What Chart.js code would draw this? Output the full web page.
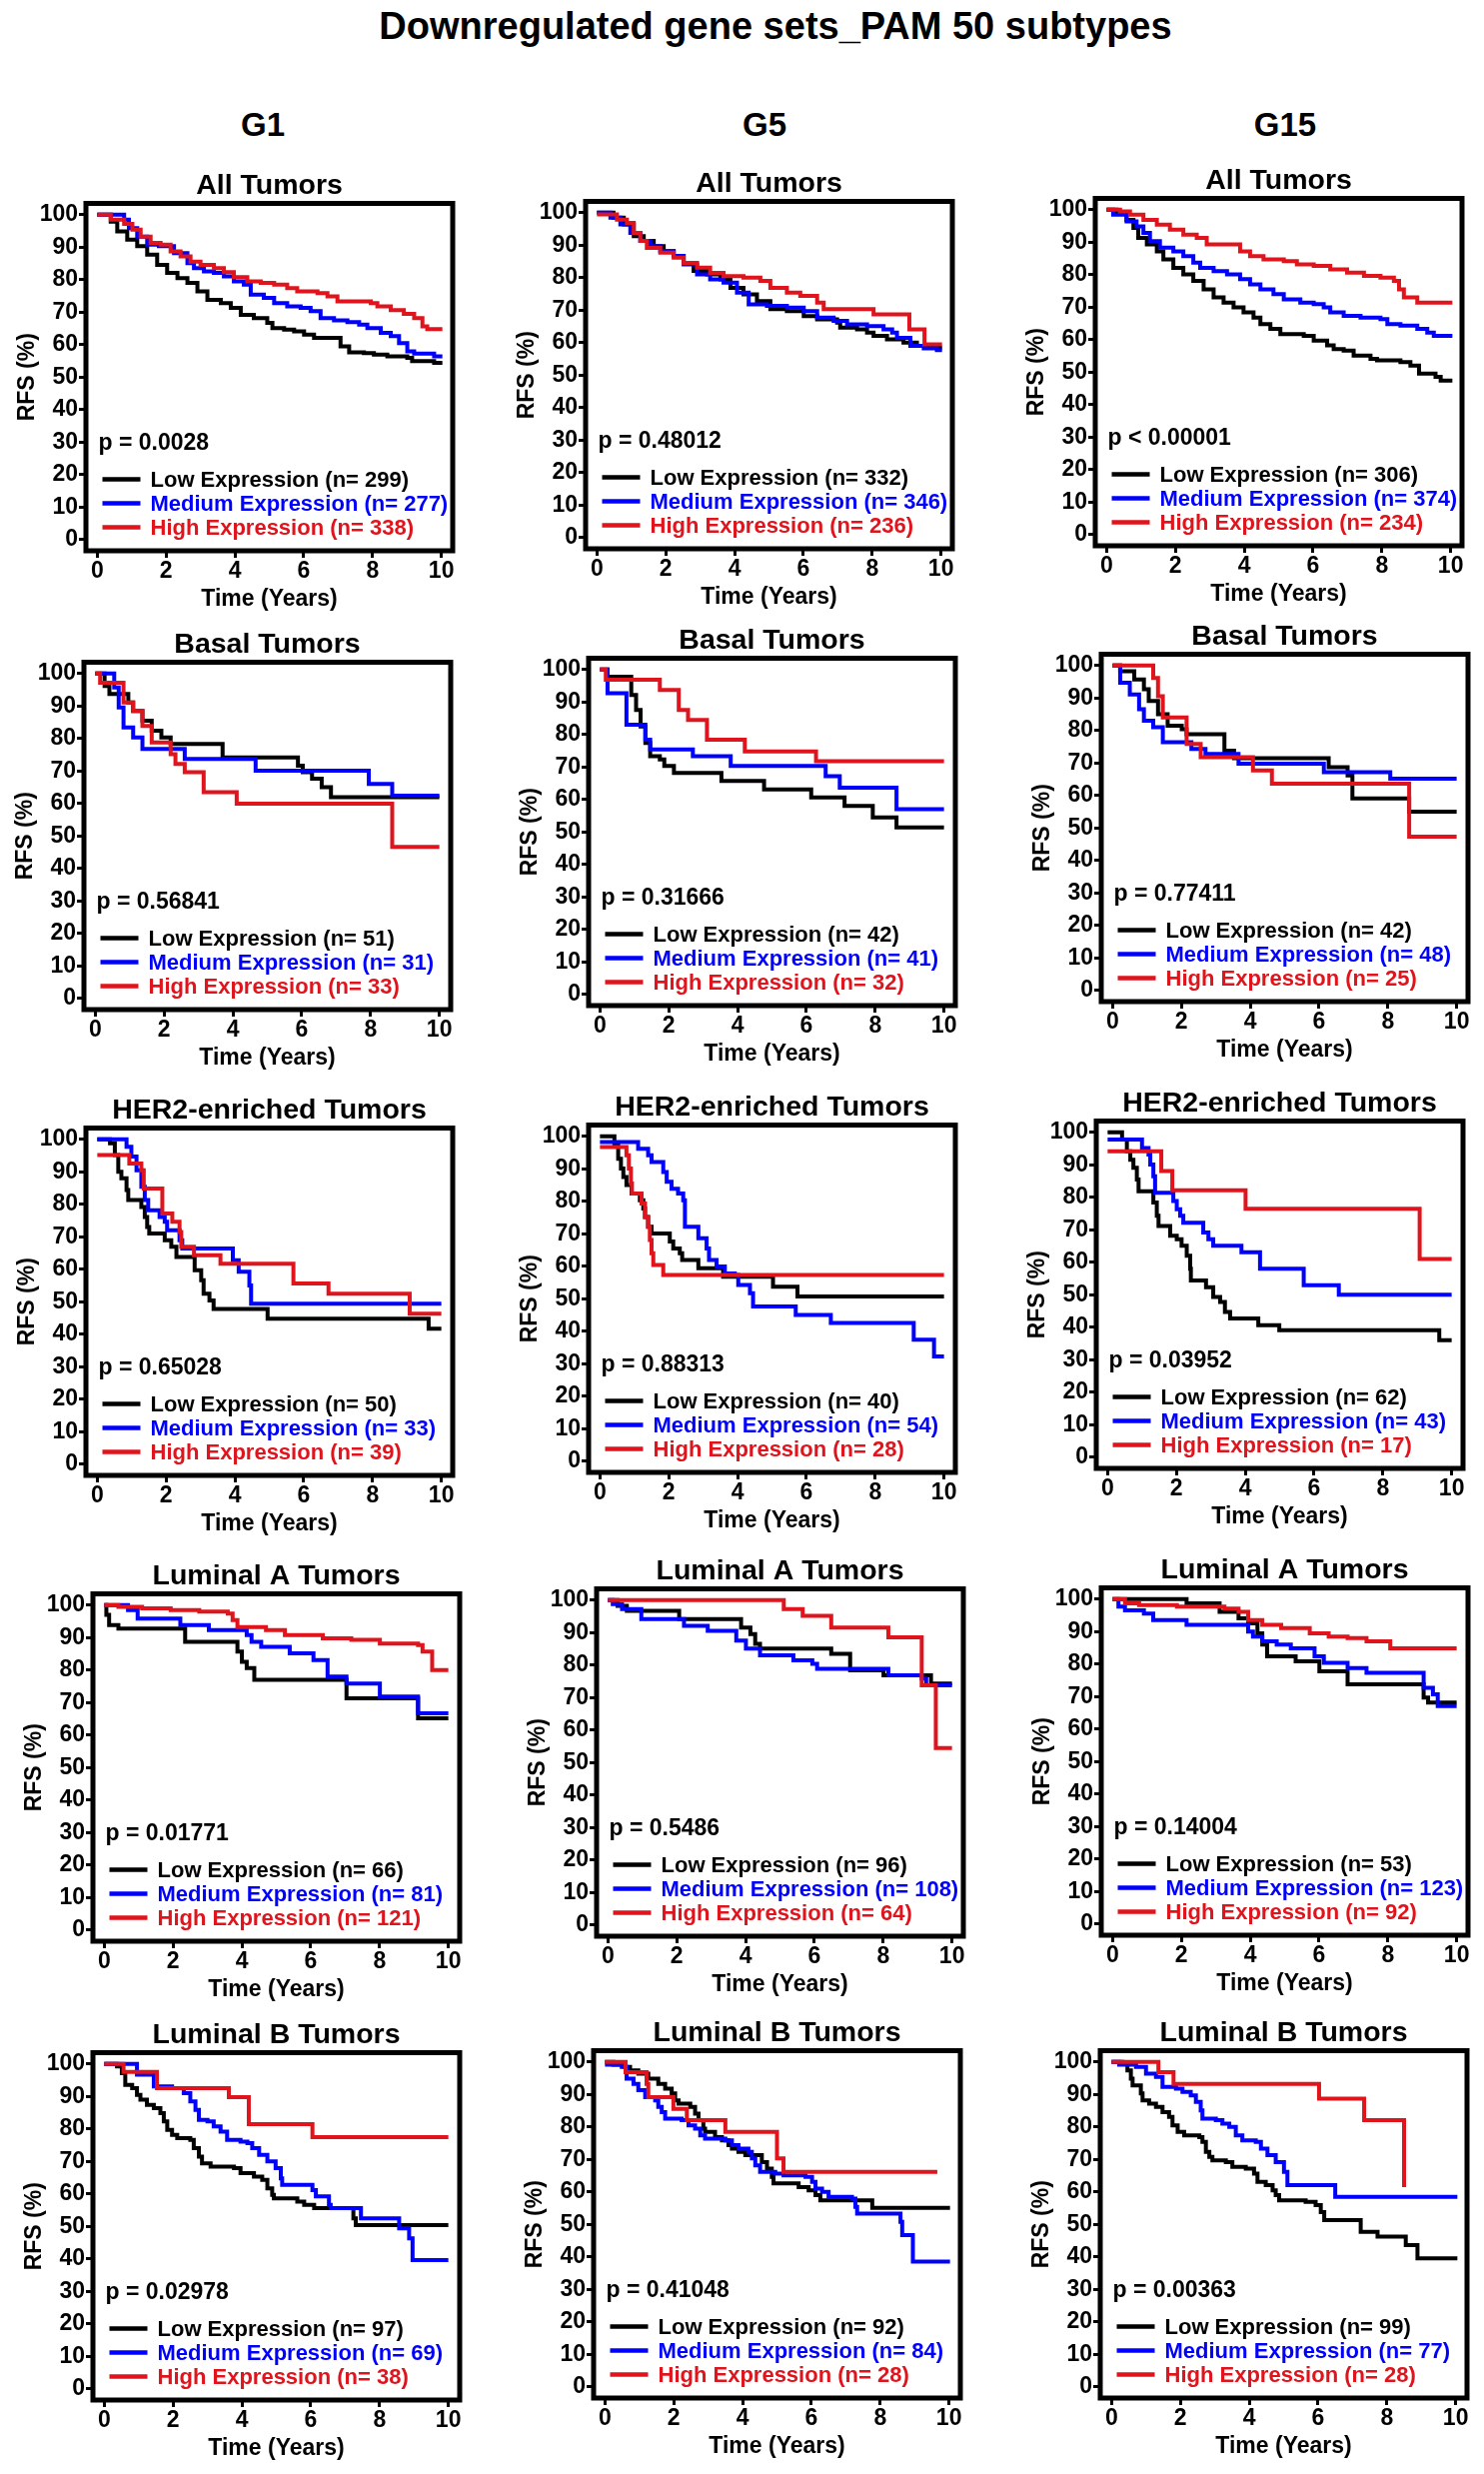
<!DOCTYPE html>
<html><head><meta charset="utf-8">
<script src="https://cdn.jsdelivr.net/npm/chart.js@4.4.1/dist/chart.umd.min.js"></script>
<style>
html,body{margin:0;padding:0;background:#fff;}
#page{position:relative;width:1485px;height:2475px;background:#fff;overflow:hidden;font-family:"Liberation Sans",Arial,sans-serif;font-weight:bold;}
.txt{position:absolute;white-space:nowrap;color:#000;line-height:1;transform:translate(-50%,-50%);}
canvas{position:absolute;}
</style></head><body><div id="page"></div>
<script>
// ---------------- DATA ----------------
const mainTitle = 'Downregulated gene sets_PAM 50 subtypes';
const geneSets = ['G1', 'G5', 'G15'];
const subtypes = ['All Tumors', 'Basal Tumors', 'HER2-enriched Tumors', 'Luminal A Tumors', 'Luminal B Tumors'];
const groups = ['Low Expression', 'Medium Expression', 'High Expression'];
const xTicks = [0, 2, 4, 6, 8, 10];
const yTicks = [0, 10, 20, 30, 40, 50, 60, 70, 80, 90, 100];
const xTitle = 'Time (Years)';
const yTitle = 'RFS (%)';

const pAll   = ['p = 0.0028', 'p = 0.48012', 'p < 0.00001'];
const pBasal = ['p = 0.56841', 'p = 0.31666', 'p = 0.77411'];
const pHER2  = ['p = 0.65028', 'p = 0.88313', 'p = 0.03952'];
const pLumA  = ['p = 0.01771', 'p = 0.5486', 'p = 0.14004'];
const pLumB  = ['p = 0.02978', 'p = 0.41048', 'p = 0.00363'];

const nAll   = [[299, 277, 338], [332, 346, 236], [306, 374, 234]];
const nBasal = [[51, 31, 33], [42, 41, 32], [42, 48, 25]];
const nHER2  = [[50, 33, 39], [40, 54, 28], [62, 43, 17]];
const nLumA  = [[66, 81, 121], [96, 108, 64], [53, 123, 92]];
const nLumB  = [[97, 69, 38], [92, 84, 28], [99, 77, 28]];

// Kaplan-Meier curves: [time (years), RFS (%)]
const All_G1_Low = [[0,100],[0.39,97.9],[0.58,94.9],[0.87,92.3],[1.16,90.3],[1.45,87.7],[1.74,84.6],[2.03,82.1],[2.33,80.5],[2.62,79.0],[2.91,76.4],[3.20,73.8],[3.59,72.8],[3.88,71.3],[4.17,69.2],[4.55,68.2],[4.94,66.7],[5.09,65.1],[5.43,64.6],[5.72,64.1],[6.01,63.1],[6.30,62.1],[7.07,59.5],[7.32,57.6],[7.75,57.4],[8.04,56.9],[8.43,56.4],[9.01,55.9],[9.15,54.9],[9.79,54.4],[10.03,54.4]];
const All_G1_Med = [[0,100],[0.78,98.5],[0.92,95.9],[1.16,93.3],[1.45,90.8],[1.79,90.3],[2.23,88.2],[2.62,85.1],[2.81,83.6],[3.10,82.6],[3.39,82.1],[3.68,81.0],[3.97,79.5],[4.26,78.5],[4.46,75.4],[4.84,74.4],[5.14,72.8],[5.52,71.8],[5.91,71.3],[6.20,70.3],[6.49,68.2],[6.88,67.5],[7.27,66.9],[7.61,66.2],[7.85,65.1],[8.24,63.6],[8.53,62.6],[8.77,60.5],[9.01,57.9],[9.21,57.2],[9.79,56.4],[10.03,56.4]];
const All_G1_High = [[0,100],[0.39,98.5],[0.78,97.2],[1.02,95.4],[1.26,93.3],[1.55,91.3],[1.84,90.8],[2.13,88.7],[2.42,87.2],[2.71,85.6],[3.00,84.6],[3.39,83.6],[3.68,82.3],[3.97,80.8],[4.36,79.5],[4.75,79.0],[5.14,78.5],[5.52,77.4],[5.81,76.4],[6.40,75.9],[6.69,74.9],[6.98,73.3],[7.95,72.8],[8.14,71.8],[8.53,70.6],[8.91,69.5],[9.21,68.2],[9.45,65.6],[9.59,64.8],[10.03,64.8]];

const All_G5_Low = [[0,100],[0.48,98.5],[0.78,96.4],[1.07,92.8],[1.36,91.3],[1.65,89.7],[1.94,88.2],[2.23,86.7],[2.52,84.6],[2.81,82.1],[3.20,81.0],[3.59,79.5],[3.88,76.9],[4.26,74.9],[4.65,72.8],[5.04,70.3],[5.52,69.7],[6.01,68.2],[6.40,67.2],[6.98,66.2],[7.07,64.6],[7.56,64.1],[7.85,63.1],[8.04,62.1],[8.43,61.0],[8.91,60.0],[9.30,59.0],[9.69,58.5],[10.03,58.5]];
const All_G5_Med = [[0,100],[0.39,98.5],[0.68,96.4],[0.97,93.8],[1.26,91.3],[1.55,89.7],[1.84,88.2],[2.23,86.7],[2.52,84.1],[2.91,81.0],[3.29,79.5],[3.68,78.5],[4.07,75.4],[4.41,71.8],[4.94,71.3],[5.52,70.8],[6.01,69.7],[6.40,67.7],[6.88,66.7],[7.27,65.6],[7.85,65.1],[8.33,64.1],[8.58,63.1],[8.72,61.5],[9.11,59.0],[9.50,58.2],[9.88,57.7],[10.03,57.7]];
const All_G5_High = [[0,99.5],[0.58,97.9],[0.87,96.9],[1.07,93.8],[1.26,91.3],[1.45,89.2],[1.84,87.7],[2.23,86.2],[2.52,84.6],[2.91,83.1],[3.29,81.5],[3.68,80.5],[4.26,80.0],[4.75,79.0],[5.04,76.9],[5.52,75.4],[5.91,74.4],[6.40,72.3],[6.59,70.3],[8.04,68.7],[9.08,64.1],[9.52,59.5],[10.03,59.5]];

const All_G15_Low = [[0,100],[0.29,99.0],[0.58,96.9],[0.78,94.4],[0.92,91.3],[1.17,89.3],[1.46,87.2],[1.65,84.7],[1.94,82.1],[2.23,80.1],[2.52,78.1],[2.82,75.5],[3.11,73.0],[3.40,71.4],[3.69,69.9],[3.98,68.4],[4.27,66.8],[4.47,64.8],[4.76,63.3],[5.05,61.7],[5.73,61.2],[6.02,59.7],[6.41,58.2],[6.60,57.1],[6.89,56.6],[7.18,55.1],[7.67,54.1],[7.86,53.6],[8.54,53.1],[8.83,52.0],[9.08,49.5],[9.56,48.5],[9.71,47.4],[10.05,47.4]];
const All_G15_Med = [[0,100],[0.19,98.5],[0.58,96.4],[0.87,94.9],[1.07,92.9],[1.26,90.3],[1.55,88.3],[1.94,87.2],[2.23,85.7],[2.52,83.7],[2.72,82.1],[3.11,81.1],[3.50,80.1],[3.88,78.6],[4.17,77.0],[4.47,75.5],[4.85,74.0],[5.15,72.4],[5.63,71.4],[6.02,70.9],[6.31,69.9],[6.50,68.4],[6.89,67.3],[7.38,66.8],[7.96,66.3],[8.16,64.8],[8.54,64.3],[9.03,63.3],[9.32,62.2],[9.51,61.2],[10.05,61.2]];
const All_G15_High = [[0,100],[0.39,99.5],[0.68,98.5],[1.07,96.9],[1.46,95.4],[1.84,93.9],[2.23,92.3],[2.62,91.3],[2.91,89.3],[3.88,87.2],[4.17,85.7],[4.56,84.7],[5.15,84.2],[5.53,83.2],[6.02,82.7],[6.50,81.6],[6.99,80.6],[7.48,79.6],[7.96,79.1],[8.35,78.1],[8.50,75.5],[8.64,73.0],[9.03,71.4],[10.05,71.4]];

const Basal_G1_Low = [[0,100],[0.27,96.2],[0.41,93.7],[0.96,91.1],[1.10,88.5],[1.37,85.5],[1.64,82.4],[1.92,80.3],[2.19,78.3],[3.70,74.2],[5.89,71.6],[6.03,69.6],[6.30,67.6],[6.58,65.0],[6.85,61.9],[10.0,61.9]];
const Basal_G1_Med = [[0,100],[0.55,95.7],[0.68,89.6],[0.82,83.4],[1.10,80.3],[1.37,76.8],[2.60,73.7],[4.66,70.1],[7.95,66.0],[8.63,62.4],[10.0,62.4]];
const Basal_G1_High = [[0,100],[0.14,97.2],[0.82,91.1],[1.10,88.5],[1.37,83.9],[1.64,78.8],[2.19,75.2],[2.33,72.2],[2.60,69.6],[3.15,63.5],[4.11,59.9],[8.63,46.6],[10.0,46.6]];

const Basal_G5_Low = [[0,100],[0.22,97.8],[0.91,92.2],[1.05,87.6],[1.18,82.5],[1.32,77.4],[1.46,73.3],[1.74,72.3],[1.87,70.3],[2.15,68.2],[3.53,65.7],[4.77,63.1],[6.14,60.6],[7.11,58.0],[7.93,54.5],[8.62,51.4],[10.0,51.4]];
const Basal_G5_Med = [[0,100],[0.22,92.7],[0.77,83.0],[1.32,78.4],[1.46,75.4],[2.70,73.3],[3.80,70.3],[6.56,67.2],[6.97,63.6],[8.62,57.0],[10.0,57.0]];
const Basal_G5_High = [[0,100],[0.17,96.9],[1.74,93.7],[2.29,87.6],[2.56,84.5],[3.11,78.4],[4.21,74.8],[6.28,71.8],[10.0,71.8]];

const Basal_G15_Low = [[0,100],[0.22,98.3],[0.63,95.7],[0.91,92.7],[1.05,89.1],[1.32,85.0],[1.60,81.5],[2.01,80.4],[2.15,78.9],[3.25,73.8],[3.53,71.5],[6.28,68.7],[6.83,66.2],[6.97,59.1],[8.62,55.0],[10.0,55.0]];
const Basal_G15_Med = [[0,100],[0.22,94.7],[0.50,91.1],[0.77,86.6],[0.91,83.0],[1.18,81.0],[1.46,76.4],[2.29,74.3],[2.70,72.8],[3.66,69.8],[6.14,67.2],[8.07,65.2],[10.0,65.2]];
const Basal_G15_High = [[0,100],[1.18,96.2],[1.32,90.6],[1.46,84.0],[2.15,75.9],[2.56,71.8],[4.08,67.7],[4.63,63.6],[8.62,47.3],[10.0,47.3]];

const HER2_G1_Low = [[0,100],[0.37,98.8],[0.51,95.2],[0.61,90.0],[0.70,88.0],[0.85,84.4],[0.90,81.3],[1.28,79.2],[1.38,76.1],[1.45,73.0],[1.51,71.0],[1.96,68.9],[2.15,66.9],[2.30,63.8],[2.83,59.7],[3.02,56.6],[3.09,52.5],[3.26,50.4],[3.38,47.8],[4.95,44.8],[9.63,41.7],[10.0,41.7]];
const HER2_G1_Med = [[0,100],[0.85,97.7],[0.99,94.7],[1.14,90.5],[1.28,85.4],[1.38,81.3],[1.48,78.2],[1.81,76.1],[1.96,74.6],[2.03,72.0],[2.39,68.9],[2.47,66.4],[3.94,62.8],[4.11,59.2],[4.42,55.0],[4.47,49.4],[10.0,49.4]];
const HER2_G1_High = [[0,95.2],[0.93,92.6],[1.28,90.5],[1.35,84.9],[1.89,77.2],[2.18,74.6],[2.39,71.5],[2.44,66.9],[2.81,64.3],[3.58,61.7],[5.70,55.6],[6.72,52.5],[9.08,46.3],[10.0,46.3]];

const HER2_G5_Low = [[0,100],[0.42,97.7],[0.53,93.1],[0.61,90.1],[0.68,87.5],[0.77,85.0],[0.92,82.4],[1.16,80.3],[1.26,77.8],[1.31,75.2],[1.40,72.2],[1.50,70.1],[2.03,67.6],[2.13,65.5],[2.32,64.0],[2.39,61.9],[2.86,59.4],[3.58,56.8],[5.03,53.7],[5.74,50.7],[10.0,50.7]];
const HER2_G5_Med = [[0,98.3],[1.11,96.2],[1.40,94.2],[1.50,92.1],[1.84,89.0],[1.94,86.0],[2.08,83.9],[2.27,82.4],[2.42,80.3],[2.47,72.2],[2.86,68.6],[3.10,65.5],[3.17,61.9],[3.39,59.9],[3.63,57.8],[3.92,57.3],[4.02,54.2],[4.36,51.7],[4.45,47.6],[5.69,45.0],[6.71,42.5],[9.12,37.4],[9.71,32.2],[10.0,32.2]];
const HER2_G5_High = [[0,96.7],[0.77,94.2],[0.84,90.1],[0.90,85.5],[0.93,82.4],[1.21,79.3],[1.31,75.2],[1.40,72.2],[1.45,68.1],[1.50,64.0],[1.55,60.4],[1.84,57.3],[10.0,57.3]];

const HER2_G15_Low = [[0,100],[0.42,97.8],[0.56,94.2],[0.66,91.6],[0.75,89.1],[0.85,85.5],[0.90,81.9],[1.33,78.4],[1.43,74.3],[1.48,71.2],[1.82,68.2],[2.01,67.1],[2.15,65.1],[2.30,62.0],[2.40,58.0],[2.42,54.4],[2.86,52.3],[3.07,49.3],[3.27,47.8],[3.41,44.7],[3.56,42.7],[4.38,40.6],[4.99,39.1],[9.64,36.0],[10.0,36.0]];
const HER2_G15_Med = [[0,97.8],[1.00,95.2],[1.19,93.2],[1.24,90.1],[1.33,86.5],[1.38,81.4],[1.91,78.9],[2.01,76.3],[2.11,74.3],[2.20,72.2],[2.78,69.2],[2.93,67.1],[3.07,65.1],[3.89,63.1],[4.43,58.0],[5.70,52.9],[6.72,50.0],[10.0,50.0]];
const HER2_G15_High = [[0,94.2],[1.56,88.1],[1.88,82.2],[4.01,76.5],[9.07,61.0],[10.0,61.0]];

const LumA_G1_Low = [[0,100],[0.06,97.0],[0.14,93.9],[0.41,92.8],[2.35,88.7],[3.87,85.7],[4.00,82.6],[4.14,80.6],[4.36,77.0],[7.04,71.3],[9.12,65.2],[10.0,65.2]];
const LumA_G1_Med = [[0,100],[0.69,98.5],[0.97,95.9],[2.21,93.9],[3.04,92.3],[4.14,90.8],[4.28,88.7],[4.56,87.2],[5.39,85.2],[6.08,83.1],[6.49,78.0],[7.04,75.9],[8.01,71.9],[9.12,66.7],[10.0,66.7]];
const LumA_G1_High = [[0,100],[0.41,99.5],[1.10,99.0],[1.93,98.5],[2.76,98.0],[3.59,97.4],[3.73,95.4],[3.87,93.3],[4.70,92.3],[5.25,90.8],[6.35,89.8],[7.18,89.3],[8.01,88.2],[9.12,87.7],[9.25,85.7],[9.53,80.0],[10.0,80.0]];

const LumA_G5_Low = [[0,100],[0.28,98.3],[0.55,96.7],[2.07,94.2],[3.87,91.6],[4.14,89.6],[4.28,86.6],[4.42,85.1],[6.49,83.5],[7.04,78.4],[8.01,76.9],[9.39,74.3],[10.0,74.3]];
const LumA_G5_Med = [[0,100],[0.14,98.8],[0.41,97.3],[0.97,94.2],[2.21,92.1],[2.90,90.6],[3.73,87.6],[4.01,85.1],[4.42,83.0],[5.39,81.5],[5.94,80.4],[6.08,78.9],[8.15,76.9],[9.12,75.9],[9.25,73.8],[10.0,73.8]];
const LumA_G5_High = [[0,100],[5.11,97.3],[5.66,95.2],[6.49,91.6],[8.15,88.6],[9.12,73.8],[9.53,54.5],[10.0,54.5]];

const LumA_G15_Low = [[0,100],[2.15,98.7],[3.11,96.1],[3.66,94.1],[3.94,92.6],[4.21,89.5],[4.35,86.0],[4.49,82.4],[5.32,80.9],[6.01,77.8],[6.83,73.8],[9.04,69.7],[9.17,68.2],[10.0,68.2]];
const LumA_G15_Med = [[0,100],[0.17,97.7],[0.36,96.6],[0.91,95.6],[1.18,93.6],[2.15,92.1],[3.94,90.0],[4.08,88.5],[4.35,87.0],[4.77,86.0],[5.18,84.9],[5.87,82.4],[6.14,80.4],[6.83,78.8],[7.38,77.3],[9.04,72.7],[9.31,70.7],[9.45,67.1],[10.0,67.1]];
const LumA_G15_High = [[0,100],[0.36,98.7],[0.77,98.2],[1.87,97.7],[3.25,97.1],[3.66,96.1],[3.94,93.6],[4.35,92.1],[4.90,91.1],[5.73,89.5],[6.28,88.5],[6.83,88.0],[7.38,87.0],[8.07,84.9],[10.0,84.9]];

const LumB_G1_Low = [[0,100],[0.37,99.3],[0.51,97.2],[0.61,93.6],[0.81,92.6],[0.95,90.5],[1.05,89.0],[1.24,87.4],[1.44,86.4],[1.63,84.9],[1.73,82.3],[1.83,79.7],[1.97,78.2],[2.12,77.2],[2.50,76.6],[2.60,74.1],[2.75,71.5],[2.84,69.4],[3.09,68.4],[3.77,67.9],[3.96,66.4],[4.35,65.3],[4.59,64.3],[4.74,61.7],[4.88,59.7],[4.93,58.6],[5.61,57.6],[5.81,56.6],[6.10,55.6],[7.24,52.5],[7.31,50.4],[10.0,50.4]];
const LumB_G1_Med = [[0,100],[0.95,96.7],[1.44,93.1],[1.97,92.6],[2.31,91.0],[2.50,88.5],[2.65,85.9],[2.75,82.8],[3.00,82.3],[3.18,80.8],[3.38,79.2],[3.57,76.6],[3.96,76.1],[4.16,75.6],[4.30,74.1],[4.50,72.0],[4.74,70.0],[4.98,67.9],[5.13,64.8],[5.17,62.8],[6.05,61.2],[6.15,59.2],[6.53,56.6],[6.58,55.6],[7.46,52.5],[8.57,49.4],[8.86,46.3],[8.96,39.6],[10.0,39.6]];
const LumB_G1_High = [[0,100],[0.56,97.6],[1.53,92.6],[3.62,89.8],[4.20,81.5],[6.05,77.5],[10.0,77.5]];

const LumB_G5_Low = [[0,100],[0.24,99.2],[0.58,98.5],[0.73,97.4],[0.97,96.4],[1.26,94.9],[1.55,93.3],[1.75,91.8],[1.94,90.3],[2.04,88.2],[2.14,87.2],[2.48,86.2],[2.62,84.1],[2.72,82.1],[2.86,79.5],[2.91,78.5],[3.20,76.9],[3.40,75.9],[3.59,74.4],[3.69,73.3],[3.88,72.3],[4.08,71.3],[4.56,69.2],[4.71,67.2],[4.85,64.6],[4.90,62.6],[5.63,61.5],[5.92,60.5],[6.12,59.0],[6.26,57.4],[7.77,55.1],[10.03,55.1]];
const LumB_G5_Med = [[0,99.2],[0.49,98.5],[0.63,94.9],[0.83,93.3],[0.97,91.3],[1.17,89.2],[1.46,88.2],[1.55,86.2],[1.65,84.6],[1.75,82.6],[2.23,82.1],[2.43,80.5],[2.62,79.5],[2.77,77.4],[2.91,76.4],[3.50,75.9],[3.69,74.4],[3.88,73.3],[4.17,72.3],[4.27,70.3],[4.37,68.2],[4.51,66.2],[4.95,65.6],[5.19,65.1],[5.83,64.6],[6.02,63.1],[6.12,61.0],[6.31,60.0],[6.50,58.5],[7.18,57.9],[7.28,55.4],[7.33,53.3],[8.59,50.8],[8.64,46.7],[8.95,38.5],[10.03,38.5]];
const LumB_G5_High = [[0,100],[0.60,96.9],[1.21,93.3],[1.26,89.2],[1.99,85.6],[2.38,82.1],[3.50,78.5],[5.00,70.3],[5.19,66.2],[9.66,66.2]];

const LumB_G15_Low = [[0,100],[0.32,99.5],[0.46,97.4],[0.56,94.9],[0.61,92.8],[0.85,90.3],[0.90,88.2],[1.09,87.2],[1.29,86.2],[1.48,84.6],[1.67,83.1],[1.77,80.5],[1.92,78.5],[2.11,77.4],[2.55,76.9],[2.64,75.4],[2.74,72.3],[2.84,70.8],[2.93,69.7],[3.32,69.2],[3.51,67.7],[3.90,67.2],[4.14,65.6],[4.24,63.1],[4.48,62.1],[4.68,60.5],[4.77,59.0],[4.87,57.4],[5.64,56.9],[5.93,55.9],[6.08,53.8],[6.18,51.3],[7.24,47.7],[7.73,46.2],[8.55,43.6],[8.89,39.5],[10.05,39.5]];
const LumB_G15_Med = [[0,100],[0.22,99.2],[0.71,98.5],[1.00,96.4],[1.29,95.4],[1.48,92.3],[1.87,91.8],[2.06,90.8],[2.30,89.7],[2.45,87.7],[2.59,85.1],[2.64,82.6],[3.03,82.1],[3.22,81.0],[3.42,80.0],[3.61,77.4],[3.80,75.9],[4.19,75.4],[4.34,73.3],[4.53,71.3],[4.77,69.2],[5.01,66.2],[5.11,62.1],[6.50,58.5],[10.05,58.5]];
const LumB_G15_High = [[0,100],[1.36,96.9],[1.80,93.3],[6.03,88.7],[7.34,82.1],[8.50,61.5]];

// tables built from the named arrays
const curveTable = [
  [[All_G1_Low, All_G1_Med, All_G1_High], [All_G5_Low, All_G5_Med, All_G5_High], [All_G15_Low, All_G15_Med, All_G15_High]],
  [[Basal_G1_Low, Basal_G1_Med, Basal_G1_High], [Basal_G5_Low, Basal_G5_Med, Basal_G5_High], [Basal_G15_Low, Basal_G15_Med, Basal_G15_High]],
  [[HER2_G1_Low, HER2_G1_Med, HER2_G1_High], [HER2_G5_Low, HER2_G5_Med, HER2_G5_High], [HER2_G15_Low, HER2_G15_Med, HER2_G15_High]],
  [[LumA_G1_Low, LumA_G1_Med, LumA_G1_High], [LumA_G5_Low, LumA_G5_Med, LumA_G5_High], [LumA_G15_Low, LumA_G15_Med, LumA_G15_High]],
  [[LumB_G1_Low, LumB_G1_Med, LumB_G1_High], [LumB_G5_Low, LumB_G5_Med, LumB_G5_High], [LumB_G15_Low, LumB_G15_Med, LumB_G15_High]]
];
const pTable = [pAll, pBasal, pHER2, pLumA, pLumB];
const nTable = [nAll, nBasal, nHER2, nLumA, nLumB];

// ---------------- LAYOUT / STYLE ----------------
const FONT = '"Liberation Sans", Arial, Helvetica, sans-serif';
const COLORS = ['#000000', '#0000ff', '#e0141c'];
// outer-left/outer-top of each panel frame on the page
const frames = [
  [[83, 200], [583, 198], [1093, 195]],
  [[81, 659], [586, 655], [1099, 651]],
  [[83, 1125], [586, 1122], [1094, 1118]],
  [[90, 1591], [594, 1586], [1099, 1585]],
  [[90, 2050], [591, 2048], [1098, 2048]]
];
const headerPos = [[263, 124], [765, 124], [1286, 124]];
const AREA_W = 367, AREA_H = 348, Y_W = 86, X_H = 66, T_H = 34, R_PAD = 6, FRAME = 5;

Chart.defaults.font.family = FONT;
Chart.defaults.font.weight = 'bold';
Chart.defaults.color = '#000';

const page = document.getElementById('page');
function addText(text, x, y, size) {
  const d = document.createElement('div');
  d.className = 'txt';
  d.textContent = text;
  d.style.left = x + 'px';
  d.style.top = y + 'px';
  d.style.fontSize = size + 'px';
  page.appendChild(d);
}
addText(mainTitle, 776, 26, 38);
geneSets.forEach((g, i) => addText(g, headerPos[i][0], headerPos[i][1], 33));

const framePlugin = {
  id: 'panelFrame',
  afterDatasetsDraw(chart) {
    const {ctx, chartArea: a} = chart;
    ctx.save();
    ctx.strokeStyle = '#000';
    ctx.lineWidth = FRAME;
    ctx.strokeRect(a.left, a.top, a.right - a.left, a.bottom - a.top);
    ctx.restore();
  }
};
const kmLegendPlugin = {
  id: 'kmLegend',
  afterDraw(chart, args, opts) {
    const {ctx, chartArea: a} = chart;
    ctx.save();
    ctx.textAlign = 'left';
    ctx.textBaseline = 'middle';
    ctx.font = 'bold 23px ' + FONT;
    ctx.fillStyle = '#000';
    ctx.fillText(opts.pText, a.left + 12.5, a.bottom - 107.5);
    ctx.font = 'bold 22px ' + FONT;
    chart.data.datasets.forEach((ds, i) => {
      const y = a.bottom - 71.5 + 24 * i;
      ctx.strokeStyle = ds.borderColor;
      ctx.lineWidth = 4.5;
      ctx.beginPath();
      ctx.moveTo(a.left + 16.5, y);
      ctx.lineTo(a.left + 54.5, y);
      ctx.stroke();
      ctx.fillStyle = ds.borderColor;
      ctx.fillText(ds.label, a.left + 64.5, y + 1);
    });
    ctx.restore();
  }
};

function tickFont() { return {family: FONT, size: 23, weight: 'bold', lineHeight: 1.2}; }

subtypes.forEach((sub, r) => {
  geneSets.forEach((g, c) => {
    const [fl, ft] = frames[r][c];
    const cv = document.createElement('canvas');
    const w = Y_W + AREA_W + R_PAD, h = T_H + AREA_H + X_H;
    cv.width = w; cv.height = h;
    cv.style.width = w + 'px'; cv.style.height = h + 'px';
    cv.style.left = (fl + FRAME / 2 - Y_W) + 'px';
    cv.style.top = (ft + FRAME / 2 - T_H) + 'px';
    page.appendChild(cv);
    const curves = curveTable[r][c];
    const ns = nTable[r][c];
    new Chart(cv, {
      type: 'line',
      data: {
        datasets: curves.map((pts, i) => ({
          label: groups[i] + ' (n= ' + ns[i] + ')',
          data: pts.map(p => ({x: p[0], y: p[1]})),
          borderColor: COLORS[i],
          backgroundColor: COLORS[i],
          borderWidth: 4,
          pointRadius: 0,
          pointHoverRadius: 0,
          stepped: true,
          fill: false,
          tension: 0,
          borderCapStyle: 'butt',
          borderJoinStyle: 'miter',
          order: 2 - i
        }))
      },
      options: {
        responsive: false,
        animation: false,
        events: [],
        layout: {padding: {left: 0, right: R_PAD, top: 0, bottom: 0}},
        plugins: {
          legend: {display: false},
          tooltip: {enabled: false},
          title: {
            display: true, text: sub, fullSize: false, color: '#000',
            font: {family: FONT, size: 28.5, weight: 'bold', lineHeight: 1},
            padding: {top: 3, bottom: 3}
          },
          kmLegend: {pText: pTable[r][c]}
        },
        scales: {
          x: {
            type: 'linear', position: 'bottom', min: -0.33, max: 10.33,
            afterFit: s => { s.height = X_H; },
            afterBuildTicks: s => { s.ticks = xTicks.map(v => ({value: v})); },
            border: {display: false},
            grid: {display: true, drawOnChartArea: false, drawTicks: true, tickLength: 7, tickWidth: 3, color: '#000'},
            ticks: {color: '#000', font: tickFont(), padding: 0, maxRotation: 0, autoSkip: false},
            title: {display: true, text: xTitle, color: '#000', font: tickFont(), padding: {top: 0, bottom: 4}}
          },
          y: {
            type: 'linear', position: 'left', min: -3.5, max: 103.5,
            afterFit: s => { s.width = Y_W; },
            afterBuildTicks: s => { s.ticks = yTicks.map(v => ({value: v})); },
            border: {display: false},
            grid: {display: true, drawOnChartArea: false, drawTicks: true, tickLength: 7, tickWidth: 3, color: '#000'},
            ticks: {color: '#000', font: tickFont(), padding: 1, autoSkip: false},
            title: {display: true, text: yTitle, color: '#000', font: tickFont(), padding: {top: 14, bottom: 0}}
          }
        }
      },
      plugins: [framePlugin, kmLegendPlugin]
    });
  });
});
</script>
</body></html>
